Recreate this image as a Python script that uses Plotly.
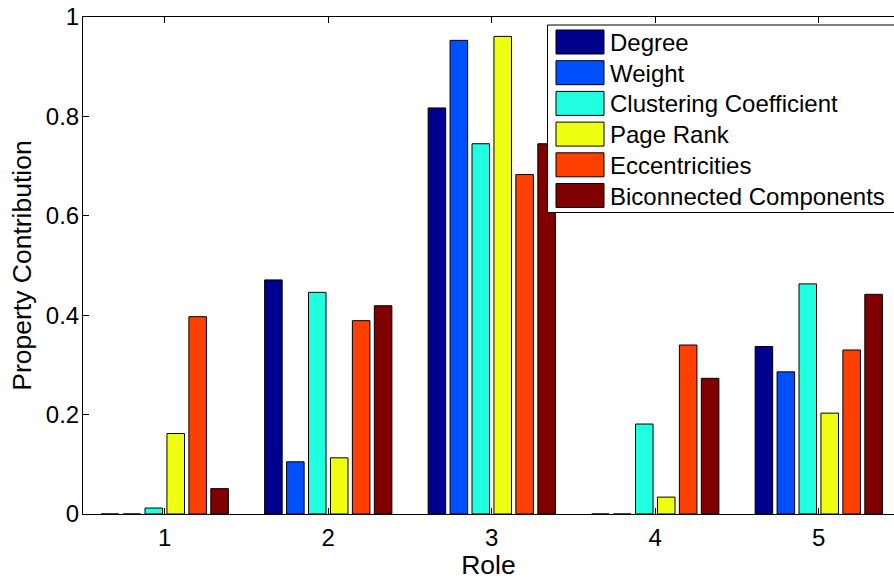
import plotly.graph_objects as go

# Role categories and per-property contributions
roles = [1, 2, 3, 4, 5]
properties = ["Degree", "Weight", "Clustering Coefficient", "Page Rank",
              "Eccentricities", "Biconnected Components"]
degree = [0.0, 0.471, 0.817, 0.0, 0.337]
weight = [0.0, 0.105, 0.953, 0.0, 0.286]
clustering = [0.012, 0.446, 0.745, 0.181, 0.463]
page_rank = [0.162, 0.113, 0.961, 0.034, 0.203]
eccentricities = [0.397, 0.389, 0.683, 0.340, 0.330]
biconnected = [0.051, 0.419, 0.745, 0.273, 0.442]
series = [degree, weight, clustering, page_rank, eccentricities, biconnected]
colors = ["#00008F", "#0050FF", "#20FFDF", "#EFFF10", "#FF4000", "#800000"]

W, H = 894, 580
ML, MR, MT, MB = 83, 0, 17, 66
FONT = "Liberation Sans, Arial, Helvetica, sans-serif"
FS = 24          # tick and legend text
FS_TITLE = 26.5  # axis titles

fig = go.Figure()
for name, vals, col in zip(properties, series, colors):
    fig.add_trace(go.Bar(
        x=roles, y=vals, name=name,
        marker=dict(color=col, line=dict(color="black", width=1)),
        showlegend=False,
    ))

# pixel -> paper helpers for the hand-drawn legend box
pw, ph = W - ML - MR, H - MT - MB
def px(x):
    return (x - ML) / pw
def py(y):
    return 1 - (y - MT) / ph

shapes = [dict(type="rect", xref="paper", yref="paper",
               x0=px(547.5), x1=px(898), y0=py(212.5), y1=py(25),
               line=dict(color="black", width=1), fillcolor="white", layer="above")]
annotations = []
for i, (name, col) in enumerate(zip(properties, colors)):
    top = 30 + i * 30.7
    shapes.append(dict(type="rect", xref="paper", yref="paper",
                       x0=px(556), x1=px(604), y0=py(top + 24), y1=py(top),
                       line=dict(color="black", width=1), fillcolor=col, layer="above"))
    annotations.append(dict(xref="paper", yref="paper", x=px(608), y=py(top + 12.5),
                            text=name, showarrow=False, xanchor="left", yanchor="middle",
                            font=dict(family=FONT, size=FS, color="black")))

fig.update_layout(
    width=W, height=H,
    margin=dict(l=ML, r=MR, t=MT, b=MB, autoexpand=False),
    paper_bgcolor="white", plot_bgcolor="white",
    barmode="group", bargap=0.195, bargroupgap=0.2,
    font=dict(family=FONT, size=FS, color="black"),
    shapes=shapes, annotations=annotations,
)
fig.update_xaxes(
    range=[0.5, 0.5 + pw / 163.5], tickvals=roles, ticktext=[str(r) for r in roles],
    showline=True, linecolor="black", linewidth=1, mirror="ticks",
    ticks="inside", ticklen=6, tickcolor="black", showgrid=False, zeroline=False,
    title=dict(text="Role", standoff=0, font=dict(size=FS_TITLE)),
    ticklabelstandoff=2, tickfont=dict(size=FS),
)
fig.update_yaxes(
    range=[0, 1], tickvals=[0, 0.2, 0.4, 0.6, 0.8, 1],
    ticktext=["0", "0.2", "0.4", "0.6", "0.8", "1"],
    showline=True, linecolor="black", linewidth=1,
    ticks="inside", ticklen=6, tickcolor="black", showgrid=False, zeroline=False,
    title=dict(text="Property Contribution", standoff=6, font=dict(size=FS_TITLE)),
    ticklabelstandoff=-2, tickfont=dict(size=FS),
)

fig.write_html("out.html")
